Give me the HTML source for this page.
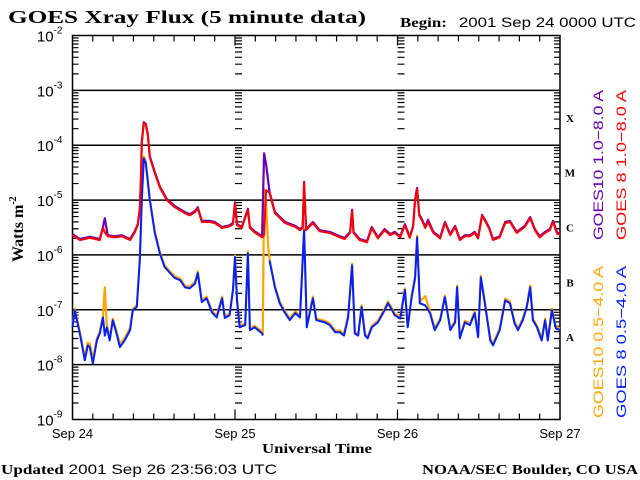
<!DOCTYPE html>
<html><head><meta charset="utf-8"><style>
html,body{margin:0;padding:0;background:#fff;width:640px;height:480px;overflow:hidden}
svg{display:block}
.s{font-family:"Liberation Sans",sans-serif}
.b{font-family:"Liberation Serif",serif;font-weight:bold}
</style></head><body>
<svg id="chart" width="640" height="480" viewBox="0 0 640 480">
<text class="b" x="8" y="23" font-size="18" textLength="358" lengthAdjust="spacingAndGlyphs">GOES Xray Flux (5 minute data)</text>
<text x="400" y="27" font-size="14" textLength="236" lengthAdjust="spacingAndGlyphs"><tspan class="b">Begin:</tspan><tspan class="s" dx="10">2001 Sep 24 0000 UTC</tspan></text>
<text class="b" font-size="16" transform="translate(23,262) rotate(-90)">Watts m<tspan font-size="10" dy="-7">-2</tspan></text>
<text class="b" x="262" y="453" font-size="14" textLength="110" lengthAdjust="spacingAndGlyphs">Universal Time</text>
<text x="1" y="474" font-size="14" textLength="276" lengthAdjust="spacingAndGlyphs"><tspan class="b">Updated</tspan><tspan class="s"> 2001 Sep 26 23:56:03 UTC</tspan></text>
<text class="b" x="422" y="474" font-size="14" textLength="216" lengthAdjust="spacingAndGlyphs">NOAA/SEC Boulder, CO USA</text>
<g id="axes"></g><g id="series"></g><g id="labels"></g>
<g class="s" font-size="14">
<text fill="#6a00b0" textLength="150" lengthAdjust="spacingAndGlyphs" transform="translate(603,240) rotate(-90)">GOES10 1.0−8.0 A</text>
<text fill="#ff0000" textLength="150" lengthAdjust="spacingAndGlyphs" transform="translate(626,240) rotate(-90)">GOES 8 1.0−8.0 A</text>
<text fill="#ffa500" textLength="152" lengthAdjust="spacingAndGlyphs" transform="translate(603,418) rotate(-90)">GOES10 0.5−4.0 A</text>
<text fill="#0020ff" textLength="152" lengthAdjust="spacingAndGlyphs" transform="translate(626,418) rotate(-90)">GOES 8 0.5−4.0 A</text>
</g>
</svg>
<script>
const redHours=[0,1.08,2.56,4.03,4.5,4.77,5.2,6.25,7.3,8.5,9.2,9.65,9.94,10.1,10.24,10.53,10.83,11.12,11.42,12.16,12.9,13.93,15.1,16.6,17.3,18.1,18.5,19.1,20.3,21.0,22.1,23.2,23.7,24.0,24.3,25.0,25.9,26.2,26.9,28.0,28.3,28.6,29.1,29.9,31.4,32.9,33.6,34.0,34.2,34.5,35.5,36.5,38.0,39.5,40.2,41.0,41.3,41.5,42.4,43.5,44.2,45.1,46.1,46.9,47.6,48.4,49.1,49.8,50.3,50.6,50.9,51.2,51.6,52.1,52.5,53.3,54.3,55.0,55.8,56.5,57.2,57.96,58.7,59.4,59.9,60.5,60.9,61.5,62.1,63.1,63.9,64.6,65.6,66.8,67.6,68.3,69.0,69.8,70.5,70.96,71.6,72];
const redLog=[-5.64,-5.73,-5.69,-5.73,-5.51,-5.59,-5.66,-5.68,-5.66,-5.73,-5.59,-5.46,-5.18,-4.64,-3.96,-3.6,-3.63,-3.82,-4.22,-4.51,-4.77,-5.0,-5.13,-5.24,-5.28,-5.22,-5.15,-5.4,-5.4,-5.42,-5.51,-5.48,-5.44,-5.06,-5.46,-5.51,-5.18,-5.51,-5.59,-5.68,-5.64,-4.82,-4.87,-5.24,-5.42,-5.49,-5.55,-5.51,-4.69,-5.55,-5.42,-5.57,-5.6,-5.68,-5.71,-5.6,-5.2,-5.6,-5.73,-5.77,-5.51,-5.7,-5.55,-5.64,-5.6,-5.68,-5.46,-5.69,-5.49,-5.0,-4.8,-5.28,-5.37,-5.51,-5.4,-5.6,-5.7,-5.42,-5.64,-5.49,-5.73,-5.66,-5.66,-5.6,-5.7,-5.29,-5.37,-5.51,-5.73,-5.68,-5.42,-5.4,-5.6,-5.49,-5.33,-5.55,-5.68,-5.6,-5.55,-5.4,-5.62,-5.62];
const purpleHours=[0,1.08,2.56,4.03,4.5,4.77,5.2,6.25,7.3,8.5,9.2,9.65,9.94,10.1,10.24,10.53,10.83,11.12,11.42,12.16,12.9,13.93,15.1,16.6,17.3,18.1,18.5,19.1,20.3,21.0,22.1,23.2,23.7,24.0,24.3,25.0,25.9,26.2,26.9,28.0,28.3,28.6,29.1,29.9,31.4,32.9,33.6,34.0,34.2,34.5,35.5,36.5,38.0,39.5,40.2,41.0,41.3,41.5,42.4,43.5,44.2,45.1,46.1,46.9,47.6,48.4,49.1,49.8,50.3,50.6,50.9,51.2,51.6,52.1,52.5,53.3,54.3,55.0,55.8,56.5,57.2,57.96,58.7,59.4,59.9,60.5,60.9,61.5,62.1,63.1,63.9,64.6,65.6,66.8,67.6,68.3,69.0,69.8,70.5,70.96,71.6,72];
const purpleLog=[-5.62,-5.71,-5.67,-5.71,-5.49,-5.33,-5.64,-5.66,-5.64,-5.71,-5.57,-5.44,-5.16,-4.62,-3.94,-3.58,-3.61,-3.8,-4.2,-4.49,-4.75,-4.98,-5.11,-5.22,-5.26,-5.2,-5.13,-5.38,-5.38,-5.4,-5.49,-5.46,-5.42,-5.04,-5.44,-5.49,-5.16,-5.49,-5.57,-5.66,-4.15,-4.35,-4.85,-5.22,-5.4,-5.47,-5.53,-5.49,-4.67,-5.53,-5.4,-5.55,-5.58,-5.66,-5.69,-5.58,-5.18,-5.58,-5.71,-5.75,-5.49,-5.68,-5.53,-5.62,-5.58,-5.66,-5.44,-5.67,-5.47,-4.98,-4.78,-5.26,-5.35,-5.49,-5.36,-5.58,-5.68,-5.4,-5.62,-5.47,-5.71,-5.64,-5.64,-5.58,-5.68,-5.27,-5.35,-5.49,-5.71,-5.66,-5.4,-5.38,-5.58,-5.47,-5.31,-5.53,-5.66,-5.58,-5.53,-5.38,-5.6,-5.6];
const blueHours=[0,0.34,1.08,1.82,2.26,2.56,3.0,3.6,4.03,4.5,4.77,5.07,5.5,5.95,6.5,7.0,7.7,8.5,8.9,9.5,9.94,10.24,10.53,10.83,11.42,12.16,12.9,13.6,14.4,15.1,15.9,16.6,17.3,18.1,18.5,19.1,19.8,20.6,21.3,22.1,22.5,23.2,23.7,24.0,24.3,24.7,25.5,25.9,26.2,26.9,28.0,28.1,null,29.1,29.9,30.6,31.4,32.1,32.9,33.6,34.2,34.6,35.5,36.0,37.3,38.0,38.8,39.5,40.1,40.7,41.3,41.7,42.2,42.7,43.2,43.6,44.2,45.1,46.1,46.6,47.2,47.6,48.4,49.1,49.5,50.1,50.6,50.9,51.3,52.1,52.8,53.5,54.3,55.0,55.8,56.5,56.8,57.2,57.96,58.7,59.4,59.9,60.3,60.9,61.7,62.1,63.1,63.9,64.6,65.3,65.8,66.5,67.1,67.6,68.0,68.6,69.3,69.8,70.2,70.8,71.4,72];
const blueLog=[-7.32,-7.01,-7.43,-7.92,-7.65,-7.68,-7.98,-7.56,-7.43,-7.14,-7.47,-7.32,-7.56,-7.19,-7.43,-7.68,-7.56,-7.37,-7.01,-6.95,-6.1,-5.0,-4.24,-4.33,-5.0,-5.6,-5.97,-6.22,-6.33,-6.42,-6.46,-6.59,-6.61,-6.52,-6.33,-6.86,-6.79,-7.05,-7.14,-6.79,-7.15,-7.1,-6.64,-6.04,-6.83,-7.32,-7.28,-5.97,-7.37,-7.32,-7.43,-7.47,null,-6.1,-6.59,-6.88,-7.06,-7.19,-7.06,-7.14,-5.55,-7.32,-6.79,-7.19,-7.23,-7.28,-7.41,-7.41,-7.47,-7.14,-6.19,-7.43,-7.47,-6.95,-7.47,-7.52,-7.32,-7.23,-7.01,-6.88,-7.01,-7.1,-7.16,-6.64,-7.32,-6.77,-6.42,-5.68,-6.88,-6.92,-7.06,-7.37,-7.19,-6.77,-7.37,-7.23,-6.59,-7.52,-7.23,-7.28,-7.06,-7.5,-6.41,-6.88,-7.56,-7.65,-7.37,-6.83,-6.88,-7.25,-7.37,-7.19,-6.95,-6.59,-7.19,-7.32,-7.56,-7.19,-7.56,-7.01,-7.34,-7.37];
const orangeHours=[0,0.34,1.08,1.82,2.26,2.56,3.0,3.6,4.03,4.5,4.77,5.07,5.5,5.95,6.5,7.0,7.7,8.5,8.9,9.5,9.94,10.24,10.53,10.83,11.42,12.16,12.9,13.6,14.4,15.1,15.9,16.6,17.3,18.1,18.5,19.1,19.8,20.6,21.3,22.1,22.5,23.2,23.7,24.0,24.3,24.7,25.5,25.9,26.2,26.9,28.0,28.1,28.3,28.6,28.9,29.1,29.9,30.6,31.4,32.1,32.9,33.6,34.2,34.6,35.5,36.0,37.3,38.0,38.8,39.5,40.1,40.7,41.3,41.7,42.2,42.7,43.2,43.6,44.2,45.1,46.1,46.6,47.2,47.6,48.4,49.1,49.5,50.1,50.6,50.9,51.3,52.1,52.8,53.5,54.3,55.0,55.8,56.5,56.8,57.2,57.96,58.7,59.4,59.9,60.3,60.9,61.7,62.1,63.1,63.9,64.6,65.3,65.8,66.5,67.1,67.6,68.0,68.6,69.3,69.8,70.2,70.8,71.4,72];
const orangeLog=[-7.29,-6.98,-7.4,-7.86,-7.6,-7.62,-7.9,-7.52,-7.4,-7.1,-6.59,-7.28,-7.5,-7.16,-7.39,-7.62,-7.52,-7.33,-6.98,-6.92,-6.07,-4.97,-4.21,-4.3,-4.97,-5.57,-5.94,-6.19,-6.3,-6.39,-6.43,-6.56,-6.58,-6.49,-6.3,-6.83,-6.76,-7.02,-7.11,-6.76,-7.12,-7.07,-6.61,-6.01,-6.8,-7.29,-7.25,-5.94,-7.34,-7.29,-7.4,-7.44,-4.8,-5.05,-5.85,-6.07,-6.56,-6.85,-7.03,-7.16,-7.03,-7.11,-5.52,-7.29,-6.76,-7.16,-7.2,-7.25,-7.38,-7.38,-7.44,-7.11,-6.16,-7.4,-7.44,-6.92,-7.44,-7.49,-7.29,-7.2,-6.98,-6.85,-6.98,-7.07,-7.13,-6.61,-7.29,-6.74,-6.39,-5.65,-6.85,-6.75,-7.03,-7.34,-7.16,-6.74,-7.34,-7.2,-6.56,-7.49,-7.2,-7.25,-7.03,-7.47,-6.38,-6.85,-7.53,-7.62,-7.34,-6.8,-6.85,-7.22,-7.34,-7.16,-6.92,-6.56,-7.16,-7.29,-7.53,-7.16,-7.53,-6.98,-7.31,-7.34];
const yTickExps=[-2,-3,-4,-5,-6,-7,-8,-9];
const dayLabels=["Sep 24","Sep 25","Sep 26","Sep 27"];
const classLabels=["X","M","C","B","A"];
const classExps=[-3.5,-4.5,-5.5,-6.5,-7.5];

const NS="http://www.w3.org/2000/svg";
const L=72.5,R=560,T=35.5,B=419.5;
const X=h=>L+(R-L)*h/72;
const Y=v=>T+(B-T)*(-2-v)/7;
function mk(tag,attrs,parent){const e=document.createElementNS(NS,tag);for(const k in attrs)e.setAttribute(k,attrs[k]);parent.appendChild(e);return e;}
const axes=document.getElementById('axes'),ser=document.getElementById('series'),lab=document.getElementById('labels');
const fr=mk('rect',{x:L,y:T,width:R-L,height:B-T,fill:'none',stroke:'#000','stroke-width':1.5},axes);


yTickExps.forEach(e=>{
 if(e>-9&&e<-2){const g=mk('line',{x1:L,x2:R,y1:Y(e),y2:Y(e),stroke:'#000','stroke-width':1.5},axes);
 
 }
 const t=mk('text',{x:L-10,y:Y(e)+6,'font-size':15,'text-anchor':'end',class:'s'},lab);
 
 
 t.innerHTML='10<tspan font-size="10" dy="-8">'+e+'</tspan>';
});
let d='';
for(let e=-9;e<-2;e++){for(let m=2;m<=9;m++){const y=Y(e+Math.log10(m));
 d+=`M${L} ${y}h6M${R} ${y}h-6M${X(24)} ${y}h7M${X(48)} ${y}h7`;}}
for(let e=-9;e<=-2;e++){const y=Y(e);d+=`M${X(24)} ${y}h7M${X(48)} ${y}h7`;}
for(let h=3;h<72;h+=3){const x=X(h);const len=(h%24===0)?10:6;d+=`M${x} ${B}v-${len}M${x} ${T}v${len}`;}
const tk=mk('path',{d:d,stroke:'#000','stroke-width':1.2,fill:'none'},axes);


dayLabels.forEach((s,i)=>{const t=mk('text',{x:X(i*24),y:438,'font-size':13,'text-anchor':'middle',class:'s'},lab);
 
 
 t.textContent=s;});
classLabels.forEach((s,i)=>{const t=mk('text',{x:570,y:Y(classExps[i])+4,'font-size':11,'text-anchor':'middle',class:'b'},lab);
 
 
 t.textContent=s;});
function line(hs,vs,color,w,name){let p='',pen=false;
 for(let i=0;i<hs.length;i++){if(hs[i]===null||vs[i]===null){pen=false;continue;}
  p+=(pen?'L':'M')+X(hs[i]).toFixed(1)+' '+Y(vs[i]).toFixed(1);pen=true;}
 const e=mk('path',{d:p,stroke:color,'stroke-width':w,fill:'none','stroke-linejoin':'round'},ser);
 
 }
line(orangeHours,orangeLog,'#ffa500',2.2,'series-goes10-short');
line(blueHours,blueLog,'#0020ff',2,'series-goes8-short');
line(purpleHours,purpleLog,'#6a00b0',2.2,'series-goes10-long');
line(redHours,redLog,'#ff0000',2,'series-goes8-long');
</script>
</body></html>
